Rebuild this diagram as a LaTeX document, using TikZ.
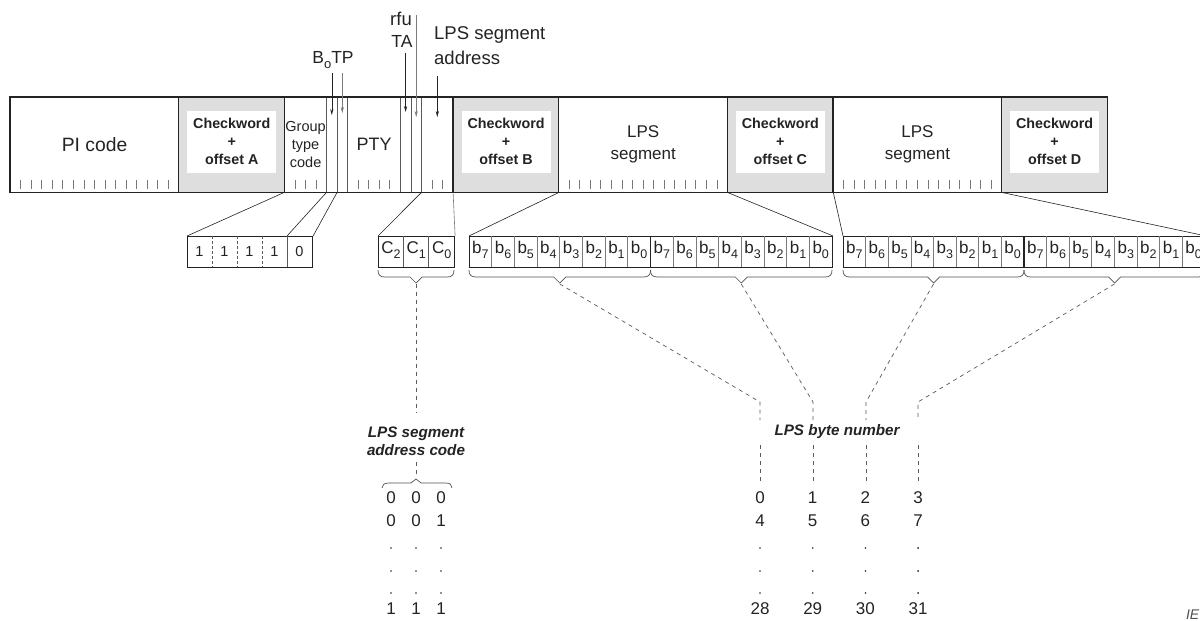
\documentclass[tikz,border=0pt]{standalone}
\usepackage{fontspec}
\setmainfont{Liberation Sans}
\usetikzlibrary{arrows.meta}
\definecolor{cwgray}{RGB}{222,222,222}
\definecolor{ink}{RGB}{35,35,35}
\definecolor{thingray}{RGB}{120,120,120}
\newcommand\bsub[1]{b\raisebox{-5pt}{\fontsize{12.5}{12.5}\selectfont #1}}
\newcommand\csub[1]{C\raisebox{-5pt}{\fontsize{12.5}{12.5}\selectfont #1}}
\newcommand\brcdown[3]{% xa, xb, tip-name
  \pgfmathsetmacro\bm{(#1+#2)/2}
  \draw[brc] (#1,270) .. controls (#1,275) and ({#1+2},277) .. ({#1+7},277) -- ({\bm-6},277) -- (\bm,283) -- ({\bm+6},277) -- ({#2-7},277) .. controls ({#2-2},277) and (#2,275) .. (#2,270);
  \coordinate (#3) at (\bm,284);
}
\begin{document}
\begin{tikzpicture}[x=1pt,y=-1pt,
  field/.style={inner sep=0pt, minimum height=95pt, anchor=north west, align=center, text=ink},
  whitebox/.style={fill=white, inner sep=0pt, minimum width=89pt, minimum height=62pt},
  cwtext/.style={font=\fontsize{14.3}{18}\selectfont\bfseries, align=center, text=ink, inner sep=0pt},
  tick/.style={draw=thingray, line width=0.7pt},
  thick sep/.style={draw=ink, line width=1.3pt},
  thin sep/.style={draw=ink!75, line width=0.7pt},
  conn/.style={draw=ink, line width=0.6pt},
  dline/.style={draw=ink!75, line width=0.7pt, dash pattern=on 4pt off 4pt},
  brc/.style={draw=ink!80, line width=0.7pt},
  lab/.style={font=\fontsize{18.5}{22}\selectfont, text=ink, inner sep=0pt},
  arr/.style={-{Stealth[length=6pt,width=3.2pt]}, line width=0.6pt, draw=ink},
  bitbox/.style={draw=ink, line width=1.1pt, inner sep=0pt, minimum height=31pt, anchor=north west},
  btext/.style={font=\fontsize{17}{17}\selectfont, text=ink, inner sep=0pt},
  dtext/.style={font=\fontsize{14.5}{14.5}\selectfont, text=ink, inner sep=0pt},
  num/.style={font=\fontsize{17}{17}\selectfont, text=ink, inner sep=0pt},
  blab/.style={font=\fontsize{15.2}{18}\selectfont\bfseries\itshape, text=ink, align=center, inner sep=0pt},
]
\useasboundingbox (0,0) rectangle (1200,621);

% ---------- top bar fields ----------
\node[field, minimum width=168.8pt, font=\fontsize{19.3}{22}\selectfont] (PI) at (10,97) {PI code};
\node[field, minimum width=105.5pt, fill=cwgray] (CWA) at (178.8,97) {};
\node[field, minimum width=42.2pt, font=\fontsize{14.5}{18}\selectfont] (GT) at (284.3,97) {Group\\type\\code};
\node[field, minimum width=10.55pt] (B0) at (326.5,97) {};
\node[field, minimum width=10.55pt] (TP) at (337.05,97) {};
\node[field, minimum width=52.75pt, font=\fontsize{18}{20}\selectfont] (PTY) at (347.6,97) {PTY};
\node[field, minimum width=10.55pt] (TA) at (400.35,97) {};
\node[field, minimum width=10.55pt] (RFU) at (410.9,97) {};
\node[field, minimum width=31.65pt] (SA) at (421.45,97) {};
\node[field, minimum width=105.5pt, fill=cwgray] (CWB) at (453.1,97) {};
\node[field, minimum width=168.8pt, font=\fontsize{17}{22}\selectfont] (LPS1) at (558.6,97) {LPS\\segment};
\node[field, minimum width=105.5pt, fill=cwgray] (CWC) at (727.4,97) {};
\node[field, minimum width=168.8pt, font=\fontsize{17}{22}\selectfont] (LPS2) at (832.9,97) {LPS\\segment};
\node[field, minimum width=105.5pt, fill=cwgray] (CWD) at (1001.7,97) {};

% checkword inner boxes
\foreach \c/\l in {CWA/A, CWB/B, CWC/C, CWD/D} {
  \node[whitebox] (W\c) at ([yshift=3pt]\c.center) {};
  \node[cwtext] (T\c) at (W\c.center) {Checkword\\+\\offset \l};
}

% ticks
\foreach \s in {10, 558.6, 832.9} {
  \foreach \i in {1,...,15} { \draw[tick] ({\s+\i*10.55},180) -- ++(0,9); }
}
\foreach \i in {1,2,3} { \draw[tick] ({284.3+\i*10.55},180) -- ++(0,9); }
\foreach \i in {1,...,4} { \draw[tick] ({347.6+\i*10.55},180) -- ++(0,9); }
\foreach \i in {1,2} { \draw[tick] ({421.45+\i*10.55},180) -- ++(0,9); }

% separators
\foreach \x in {326.5, 337.05, 347.6, 400.35, 410.9, 421.45} { \draw[thin sep] (\x,97) -- (\x,192); }
\foreach \x in {178.8, 284.3, 453.1, 558.6, 727.4, 832.9, 1001.7} { \draw[thick sep] (\x,97) -- (\x,192); }
\draw[thick sep] (PI.north west) rectangle (CWD.south east);

% ---------- top labels and arrows ----------
\node[lab, font=\fontsize{17.5}{22}\selectfont] (lbotp) at (333,60) {B\raisebox{-5pt}{\fontsize{13}{13}\selectfont o}TP};
\node[lab] (lrfu) at (401,19) {rfu};
\node[lab, font=\fontsize{17.5}{22}\selectfont] (lta) at (402,41) {TA};
\node[lab, anchor=west] (lsa1) at (434,35) {LPS segment};
\node[lab, anchor=west] (lsa2) at (434,58) {address};
\coordinate (aB0) at (331.8,73);
\coordinate (aTP) at (342.3,73);
\coordinate (aTA) at (405.6,53);
\coordinate (aRFU) at (416.2,15);
\coordinate (aSA) at (437.3,76);
\draw[arr] (aB0) -- (aB0 |- 0,115);
\draw[arr, draw=ink!60] (aTP) -- (aTP |- 0,113);
\draw[arr] (aTA) -- (aTA |- 0,112);
\draw[arr, draw=ink!60] (aRFU) -- (aRFU |- 0,117);
\draw[arr] (aSA) -- (aSA |- 0,117);

% ---------- lower boxes ----------
\node[bitbox, minimum width=125pt] (GB) at (187,236) {};
\foreach \x in {212,237,262} { \draw[thin sep, dash pattern=on 3pt off 2pt] (\x,236) -- (\x,267); }
\draw[thin sep] (287,236) -- (287,267);
\foreach \d [count=\k from 0] in {1,1,1,1,0} { \node[dtext] (gd\k) at ({199.5+\k*25},252) {\d}; }

\node[bitbox, minimum width=76pt] (CB) at (378,236) {};
\draw[thin sep] (403.3,236) -- (403.3,267);
\draw[thin sep] (428.7,236) -- (428.7,267);
\foreach \d [count=\k from 0] in {2,1,0} { \node[btext] (cd\k) at ({391+\k*25.33},250) {\csub{\d}}; }

\node[bitbox, minimum width=363pt] (BA) at (469,236) {};
\node[bitbox, minimum width=362pt] (BB) at (843,236) {};
\foreach \i in {1,...,15} {
  \ifnum\i=8
    \draw[thick sep, line width=1.1pt] ({469+\i*22.69},236) -- ++(0,31);
    \draw[thick sep, line width=1.1pt] ({843+\i*22.62},236) -- ++(0,31);
  \else
    \draw[thin sep, draw=ink!60] ({469+\i*22.69},236) -- ++(0,31);
    \draw[thin sep, draw=ink!60] ({843+\i*22.62},236) -- ++(0,31);
  \fi
}
\foreach \i in {0,...,15} {
  \pgfmathtruncatemacro\bi{7-mod(\i,8)}
  \node[btext] (ba\i) at ({469+(\i+0.5)*22.69},250) {\bsub{\bi}};
  \node[btext] (bb\i) at ({843+(\i+0.5)*22.62},250) {\bsub{\bi}};
}

% connectors bar -> boxes
\draw[conn] (GT.south west) -- (GB.north west);
\draw[conn] (B0.south west) -- (GB.north west -| 287,0);
\draw[conn] (TP.south west) -- (GB.north east);
\draw[conn] (SA.south west) -- (CB.north west);
\draw[conn, draw=ink!60] (CWB.south west) -- (CB.north east);
\draw[conn] (CWB.south east) -- (BA.north west);
\draw[conn] (CWC.south west) -- (BA.north east);
\draw[conn] (CWC.south east) -- (BB.north west);
\draw[conn] (CWD.south west) -- (BB.north east);

% braces
\brcdown{378}{454}{tC}
\brcdown{469}{650.5}{t1}
\brcdown{650.5}{832}{t2}
\brcdown{843}{1024}{t3}
\brcdown{1024}{1205}{t4}

% address code
\coordinate (sa1) at (416,413);
\draw[dline] (tC) -- (sa1);
\node[blab] (sacode) at (416,441) {LPS segment\\address code};
\coordinate (sa2) at (416,462);
\coordinate (sa3) at (416,474);
\draw[dline] (sa2) -- (sa3);
\draw[brc] (382,488) .. controls (382,485) and (384,483) .. (389,483) -- (411,483) -- (416,479) -- (421,483) -- (446,483) .. controls (450,483) and (452,485) .. (452,488);
\foreach \r/\y in {{0,0,0}/498, {0,0,1}/521, {1,1,1}/609} {
  \foreach \d [count=\k from 0] in \r { \node[num] at ({391+\k*25},\y) {\d}; }
}
\foreach \y in {548,571,593} { \foreach \k in {0,1,2} { \fill[ink] ({391+\k*25},\y) circle (0.9pt); } }

% byte numbers
\node[blab] (bnum) at (837,432) {LPS byte number};
\foreach \t/\x in {t1/760, t2/813, t3/866, t4/918} {
  \coordinate (k\t) at (\x,402);
  \coordinate (m\t) at (\x,420);
  \coordinate (n\t) at (\x,445);
  \coordinate (o\t) at (\x,483);
  \draw[dline] (\t) -- (k\t) -- (m\t);
  \draw[dline] (n\t) -- (o\t);
}
\foreach \r/\y in {{0,1,2,3}/498, {4,5,6,7}/521, {28,29,30,31}/609} {
  \foreach \d [count=\k from 0] in \r { \node[num] at ({760+\k*52.7},\y) {\d}; }
}
\foreach \y in {548,571,593} { \foreach \k in {0,...,3} { \fill[ink] ({760+\k*52.7},\y) circle (0.9pt); } }

\node[font=\fontsize{14}{14}\selectfont\itshape, text=ink!80, anchor=east, inner sep=0pt] (iec) at (1199.5,615) {IE};
\end{tikzpicture}
\end{document}
